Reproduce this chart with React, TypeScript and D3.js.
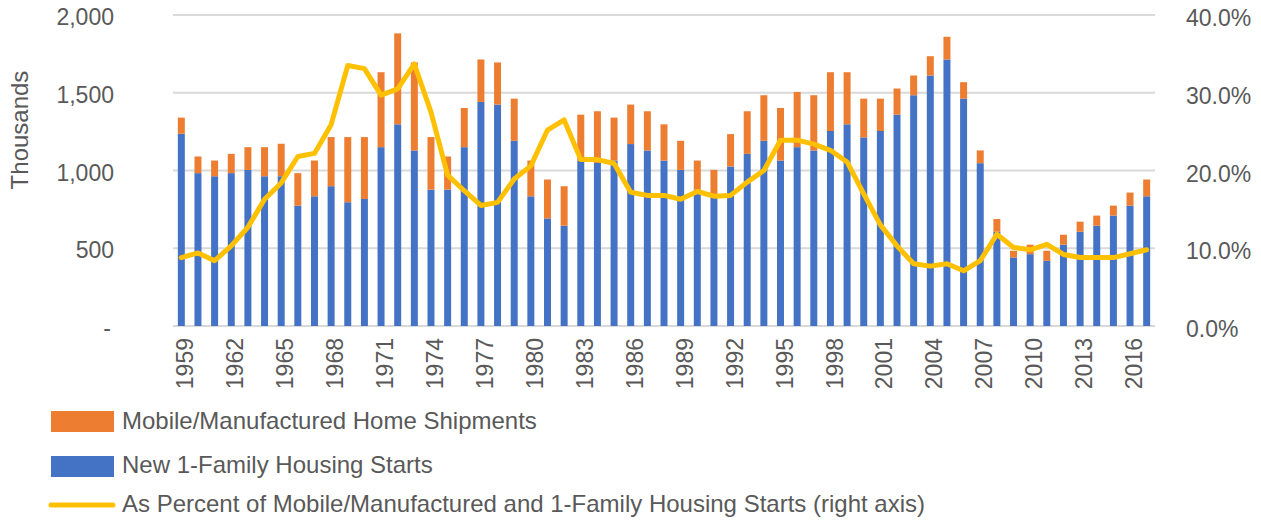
import React from "react";
import * as d3 from "d3";

const years: number[] = d3.range(1959, 2018);

// New 1-family housing starts (thousands)
const oneFamilyStarts: number[] = [
  1236, 983, 963, 983, 1004, 963, 963, 774, 834, 899,
  796, 817, 1150, 1297, 1129, 877, 877, 1150, 1441, 1424,
  1191, 834, 692, 645, 1064, 1049, 1064, 1170, 1129, 1064,
  1004, 877, 828, 1026, 1107, 1191, 1064, 1150, 1129, 1254,
  1297, 1213, 1254, 1359, 1484, 1611, 1714, 1462, 1047, 606,
  441, 462, 419, 523, 606, 645, 710, 774, 834,
];

// Mobile/manufactured home shipments (thousands)
const mobileShipments: number[] = [
  104, 107, 101, 124, 146, 187, 209, 209, 230, 316,
  419, 398, 482, 585, 566, 338, 213, 252, 273, 271,
  271, 230, 250, 254, 295, 332, 276, 254, 252, 233,
  187, 187, 176, 208, 274, 293, 338, 355, 355, 378,
  335, 249, 208, 168, 127, 124, 146, 106, 82, 82,
  43, 61, 65, 64, 65, 65, 64, 84, 108,
];

// As percent of mobile/manufactured and 1-family starts (right axis)
const pctShare: number[] = [
  8.8, 9.4, 8.4, 10.3, 12.7, 16.3, 18.4, 21.8, 22.2, 25.9,
  33.5, 33.1, 29.7, 30.5, 33.7, 27.5, 19.4, 17.4, 15.5, 15.9,
  18.9, 20.6, 25.2, 26.5, 21.4, 21.4, 20.9, 17.2, 16.8, 16.8,
  16.3, 17.3, 16.7, 16.8, 18.5, 20.0, 23.9, 23.9, 23.4, 22.6,
  21.1, 17.0, 13.0, 10.3, 8.0, 7.7, 8.0, 7.1, 8.4, 11.8,
  10.1, 9.8, 10.5, 9.2, 8.8, 8.8, 8.8, 9.3, 9.8,
];

const leftTicks: number[] = [0, 500, 1000, 1500, 2000];
const rightTicks: number[] = [0, 10, 20, 30, 40];

const seriesNames = {
  mobile: "Mobile/Manufactured Home Shipments",
  starts: "New 1-Family Housing Starts",
  pct: "As Percent of Mobile/Manufactured and 1-Family Housing Starts (right axis)",
};

const BLUE = "#4472C4";
const ORANGE = "#ED7D31";
const YELLOW = "#FFC000";
const TEXT = "#595959";
const GRID = "#D9D9D9";
const FONT = "'Liberation Sans', Arial, sans-serif";

const W = 1261;
const H = 521;
const plot = { left: 173, right: 1155, top: 15, bottom: 326 };

const App: React.FC = () => {
  const x = d3
    .scaleBand<number>()
    .domain(years)
    .range([plot.left, plot.right])
    .paddingInner(0.58)
    .paddingOuter(0.29);

  const y = d3.scaleLinear().domain([0, 2000]).range([plot.bottom, plot.top]);
  const y2 = d3.scaleLinear().domain([0, 40]).range([plot.bottom, plot.top]);

  const stackData = years.map((yr, i) => ({
    year: yr,
    starts: oneFamilyStarts[i],
    mobile: mobileShipments[i],
  }));
  const stacked = d3
    .stack<{ year: number; starts: number; mobile: number }>()
    .keys(["starts", "mobile"])(stackData);
  const colorFor: Record<string, string> = { starts: BLUE, mobile: ORANGE };

  const cx = (yr: number) => (x(yr) ?? 0) + x.bandwidth() / 2;

  const line = d3
    .line<number>()
    .x((_, i) => cx(years[i]))
    .y((d) => y2(d));

  const leftFmt = (v: number) => (v === 0 ? "-" : d3.format(",")(v));

  return (
    <svg width={W} height={H} style={{ display: "block", position: "absolute", left: 0, top: 0 }} fontFamily={FONT}>
      <rect width={W} height={H} fill="#fff" />
      {/* gridlines */}
      {leftTicks.map((t) => (
        <line key={t} x1={plot.left} x2={plot.right} y1={y(t)} y2={y(t)} stroke={GRID} strokeWidth={2} />
      ))}

      {/* stacked bars */}
      {stacked.map((layer) => (
        <g key={layer.key} fill={colorFor[layer.key]}>
          {layer.map((d) => (
            <rect
              key={d.data.year}
              x={x(d.data.year)}
              y={y(d[1])}
              width={x.bandwidth()}
              height={y(d[0]) - y(d[1])}
            />
          ))}
        </g>
      ))}

      {/* percent line */}
      <path d={line(pctShare) ?? ""} fill="none" stroke={YELLOW} strokeWidth={5} strokeLinejoin="round" strokeLinecap="round" />

      {/* left axis */}
      {leftTicks.map((t) => (
        <text key={t} x={t === 0 ? 111 : 114} y={y(t) + 4} textAnchor="end" dominantBaseline="middle" fontSize={23} fill={TEXT}>
          {leftFmt(t)}
        </text>
      ))}
      <text transform={`translate(22,130) rotate(-90)`} textAnchor="middle" dominantBaseline="middle" fontSize={24} fill={TEXT}>
        Thousands
      </text>

      {/* right axis */}
      {rightTicks.map((t) => (
        <text key={t} x={1186} y={y2(t) + 5} textAnchor="start" dominantBaseline="middle" fontSize={23} fill={TEXT}>
          {d3.format(".1f")(t) + "%"}
        </text>
      ))}

      {/* x axis labels */}
      {years
        .filter((_, i) => i % 3 === 0)
        .map((yr) => (
          <text
            key={yr}
            transform={`translate(${cx(yr) + 6},${plot.bottom + 12}) rotate(-90)`}
            textAnchor="end"
            dominantBaseline="middle"
            fontSize={23}
            fill={TEXT}
          >
            {yr}
          </text>
        ))}

      {/* legend */}
      <g fontSize={24} fill={TEXT}>
        <rect x={51} y={411} width={63} height={21} fill={ORANGE} />
        <text x={122} y={423} dominantBaseline="middle">{seriesNames.mobile}</text>
        <rect x={51} y={456} width={63} height={21} fill={BLUE} />
        <text x={122} y={467} dominantBaseline="middle">{seriesNames.starts}</text>
        <line x1={51} x2={113} y1={505} y2={505} stroke={YELLOW} strokeWidth={5} strokeLinecap="round" />
        <text x={122} y={506} dominantBaseline="middle">{seriesNames.pct}</text>
      </g>
    </svg>
  );
};

export default App;
